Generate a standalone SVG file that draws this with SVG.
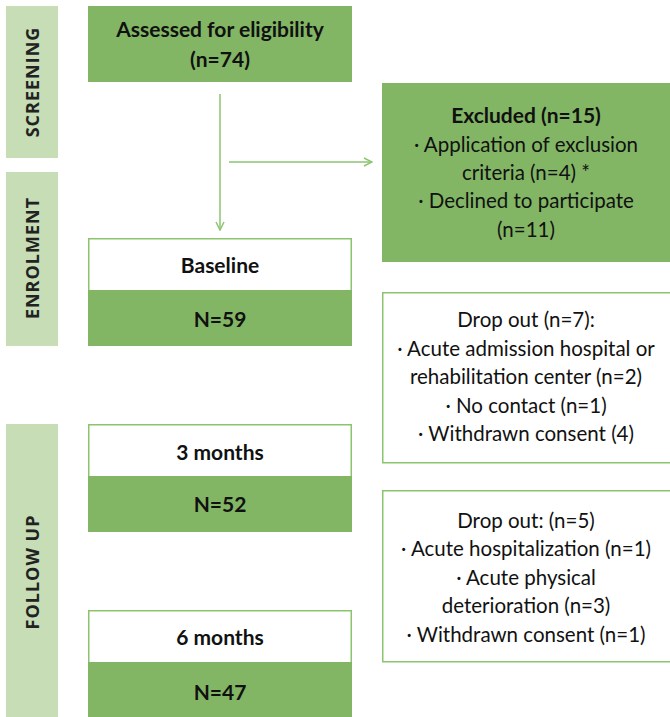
<svg xmlns="http://www.w3.org/2000/svg" width="670" height="717" viewBox="0 0 670 717">
<style>
.band{fill:#c6ddb6}
.bandt{font-family:"Open Sans",sans-serif;font-weight:700;font-size:18px;fill:#222;text-anchor:middle;letter-spacing:1px}
.g{fill:#82b665}
.w{fill:#fff;stroke:#8cc46e;stroke-width:1.5}
.b{font-family:Lato,"Liberation Sans",sans-serif;font-weight:700;font-size:21px;fill:#111;text-anchor:middle}
.t{font-family:Lato,"Liberation Sans",sans-serif;font-size:20.5px;fill:#111;text-anchor:middle}
.c{stroke:#8dc572;stroke-width:1.5;fill:none}
</style>
<defs>
<marker id="ah" viewBox="0 0 10 10" refX="9" refY="5" markerWidth="10" markerHeight="10" markerUnits="userSpaceOnUse" orient="auto">
<path d="M1,1 L9,5 L1,9" fill="none" stroke="#8dc572" stroke-width="1.5"/>
</marker>
</defs>
<g id="band-screening"><rect class="band" x="6" y="6" width="52" height="152"/><text class="bandt" transform="translate(39,82) rotate(-90)">SCREENING</text></g>
<g id="band-enrolment"><rect class="band" x="6" y="172" width="52" height="174"/><text class="bandt" transform="translate(39,258) rotate(-90)">ENROLMENT</text></g>
<g id="band-followup"><rect class="band" x="6" y="424" width="52" height="293"/><text class="bandt" transform="translate(39,572) rotate(-90)">FOLLOW UP</text></g>

<g id="assessed"><rect class="g" x="88" y="6" width="264" height="76"/><text class="b" x="220" y="37">Assessed for eligibility</text><text class="b" x="220" y="67">(n=74)</text></g>

<g id="excluded"><rect class="g" x="382" y="83" width="288" height="179"/>
<text class="b" x="526" y="123">Excluded (n=15)</text>
<text class="t" x="526" y="152">· Application of exclusion</text>
<text class="t" x="526" y="180">criteria (n=4) *</text>
<text class="t" x="526" y="208">· Declined to participate</text>
<text class="t" x="526" y="237">(n=11)</text></g>

<g id="baseline"><rect class="w" x="88.75" y="238.75" width="262.5" height="52"/><rect class="g" x="88" y="290" width="264" height="56"/><text class="b" x="220" y="273">Baseline</text><text class="b" x="220" y="327">N=59</text></g>

<g id="m3"><rect class="w" x="88.75" y="424.75" width="262.5" height="52"/><rect class="g" x="88" y="476" width="264" height="56"/><text class="b" x="220" y="460">3 months</text><text class="b" x="220" y="512">N=52</text></g>

<g id="m6"><rect class="w" x="88.75" y="610.75" width="262.5" height="52"/><rect class="g" x="88" y="662" width="264" height="55"/><text class="b" x="220" y="645">6 months</text><text class="b" x="220" y="700">N=47</text></g>

<g id="dropout1"><rect class="w" x="382.75" y="292.75" width="290" height="170"/>
<text class="t" x="526" y="327">Drop out (n=7):</text>
<text class="t" x="526" y="356">· Acute admission hospital or</text>
<text class="t" x="526" y="384">rehabilitation center (n=2)</text>
<text class="t" x="526" y="413">· No contact (n=1)</text>
<text class="t" x="526" y="441">· Withdrawn consent (4)</text></g>

<g id="dropout2"><rect class="w" x="382.75" y="490.75" width="290" height="171"/>
<text class="t" x="526" y="528">Drop out: (n=5)</text>
<text class="t" x="526" y="556">· Acute hospitalization (n=1)</text>
<text class="t" x="526" y="585">· Acute physical</text>
<text class="t" x="526" y="613">deterioration (n=3)</text>
<text class="t" x="526" y="642">· Withdrawn consent (n=1)</text></g>

<g id="connectors">
<line class="c" x1="220" y1="94" x2="220" y2="230" marker-end="url(#ah)"/>
<line class="c" x1="229" y1="162" x2="372" y2="162" marker-end="url(#ah)"/>
</g>
</svg>
